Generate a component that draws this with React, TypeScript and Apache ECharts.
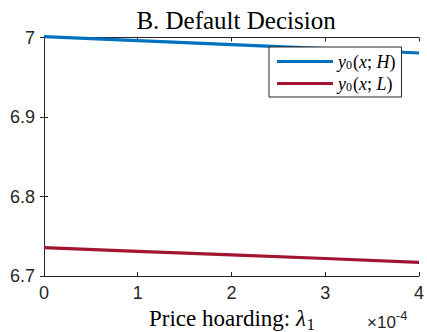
import React, { useEffect, useRef } from "react";
import * as echarts from "echarts";

const xValues = [0, 1, 2, 3, 4];
const seriesH = [7.001, 6.996, 6.991, 6.986, 6.9805];
const seriesL = [6.7356, 6.731, 6.7265, 6.722, 6.7172];
const xTicks = [0, 1, 2, 3, 4];
const yTicks = [6.7, 6.8, 6.9, 7];
const seriesNames = ["H", "L"];

const AXIS = "#262626";

export default function App() {
  const ref = useRef<HTMLDivElement>(null);
  useEffect(() => {
    if (!ref.current) return;
    const chart = echarts.init(ref.current, null, { renderer: "svg" });
    const axisCommon = {
      axisLine: { show: true, lineStyle: { color: AXIS, width: 1 } },
      axisTick: { show: true, inside: true, length: 4, lineStyle: { color: AXIS } },
      splitLine: { show: false },
    };
    const legendRich = {
      i: { fontFamily: "Liberation Serif", fontStyle: "italic", fontSize: 18, color: "#000", lineHeight: 18 },
      s: { fontFamily: "Liberation Serif", fontSize: 12, color: "#000", lineHeight: 18, padding: [7, 1, 0, 0] },
      n: { fontFamily: "Liberation Serif", fontSize: 18, color: "#000", lineHeight: 18 },
    };
    chart.setOption({
      animation: false,
      backgroundColor: "#fff",
      title: {
        text: "B. Default Decision",
        left: 231,
        textAlign: "center",
        top: 3,
        textStyle: { fontFamily: "Liberation Serif", fontSize: 25, fontWeight: "normal", color: "#000" },
      },
      grid: { left: 44, right: 8, top: 37.5, bottom: 56, containLabel: false },
      legend: {
        orient: "vertical",
        left: 269,
        top: 47,
        padding: [5, 6, 4, 8],
        itemWidth: 56,
        itemHeight: 3,
        itemGap: 3,
        backgroundColor: "#fff",
        borderColor: AXIS,
        borderWidth: 1,
        borderRadius: 0,
        data: seriesNames.map((n) => ({ name: n, icon: "rect" })),
        formatter: (name: string) => `{i|y}{s|0}{n|(}{i|x}{n|; }{i|${name}}{n|)}`,
        textStyle: { rich: legendRich },
        selectedMode: false,
      },
      xAxis: [
        {
          type: "value",
          min: 0,
          max: 4,
          interval: 1,
          position: "bottom",
          ...axisCommon,
          axisLabel: {
            color: AXIS,
            fontFamily: "Liberation Sans",
            fontSize: 18,
            margin: 8,
            formatter: (v: number) => (xTicks.includes(v) ? String(v) : ""),
          },
        },
        {
          type: "value",
          min: 0,
          max: 4,
          interval: 1,
          position: "top",
          ...axisCommon,
          axisLabel: { show: false },
        },
      ],
      yAxis: [
        {
          type: "value",
          min: 6.7,
          max: 7,
          interval: 0.1,
          position: "left",
          ...axisCommon,
          axisLabel: {
            color: AXIS,
            fontFamily: "Liberation Sans",
            fontSize: 18,
            margin: 9,
            formatter: (v: number) => {
              const r = Math.round(v * 10) / 10;
              const t = yTicks.find((y) => Math.abs(y - r) < 1e-9);
              return t === undefined ? "" : String(t);
            },
          },
        },
        {
          type: "value",
          min: 6.7,
          max: 7,
          interval: 0.1,
          position: "right",
          ...axisCommon,
          axisLabel: { show: false },
        },
      ],
      series: [
        {
          name: "H",
          type: "line",
          data: xValues.map((x, i) => [x, seriesH[i]]),
          symbol: "none",
          clip: false,
          lineStyle: { color: "#0072BD", width: 3.2 },
          itemStyle: { color: "#0072BD" },
          z: 2,
        },
        {
          name: "L",
          type: "line",
          data: xValues.map((x, i) => [x, seriesL[i]]),
          symbol: "none",
          clip: false,
          lineStyle: { color: "#A2142F", width: 3.2 },
          itemStyle: { color: "#A2142F" },
          z: 2,
        },
      ],
      graphic: [
        {
          type: "text",
          left: 149,
          top: 307,
          style: {
            text: "{a|Price hoarding: }{i|λ}{s|1}",
            rich: {
              a: { fontFamily: "Liberation Serif", fontSize: 23, fill: "#000" },
              i: { fontFamily: "Liberation Serif", fontStyle: "italic", fontSize: 23, fill: "#000" },
              s: { fontFamily: "Liberation Serif", fontSize: 16, fill: "#000", padding: [12, 0, 0, 1] },
            },
          },
        },
        {
          type: "text",
          left: 367,
          top: 307,
          style: {
            text: "{a|×10}{b|-4}",
            rich: {
              a: { fontFamily: "Liberation Sans", fontSize: 17, lineHeight: 17, fill: AXIS, padding: [7, 0, 0, 0] },
              b: { fontFamily: "Liberation Sans", fontSize: 13, lineHeight: 13, fill: AXIS, padding: [0, 0, 8, 0] },
            },
          },
        },
      ],
    });
    return () => chart.dispose();
  }, []);
  return <div ref={ref} style={{ width: 427, height: 332, position: "absolute", left: 0, top: 0 }} />;
}
